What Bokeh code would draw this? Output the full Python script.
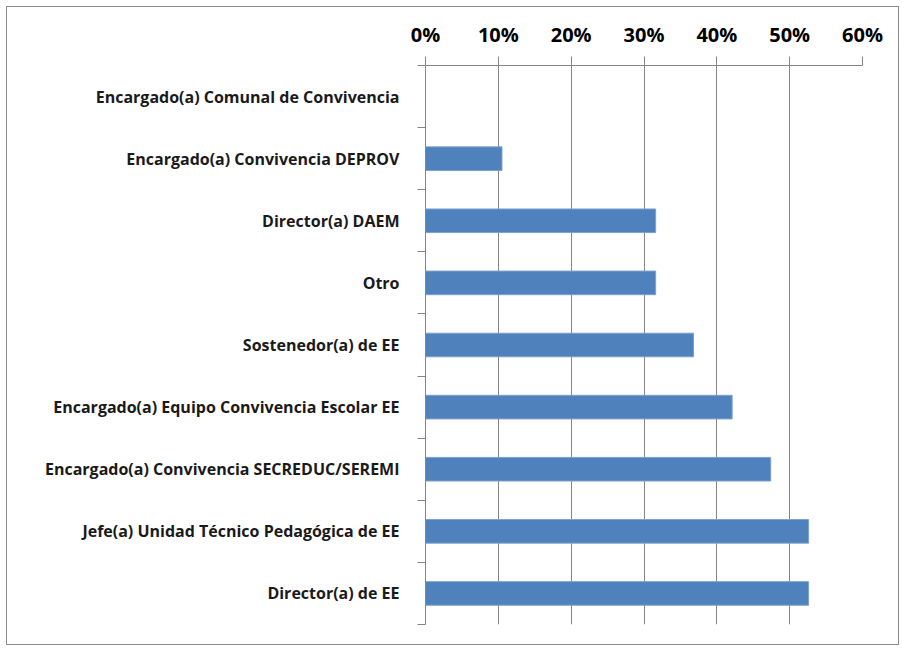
from bokeh.plotting import figure
from bokeh.models import ColumnDataSource, FixedTicker, NumeralTickFormatter, Range1d
from bokeh.embed import file_html
from bokeh.resources import INLINE

categories = [
    "Director(a) de EE",
    "Jefe(a) Unidad Técnico Pedagógica de EE",
    "Encargado(a) Convivencia SECREDUC/SEREMI",
    "Encargado(a) Equipo Convivencia Escolar EE",
    "Sostenedor(a) de EE",
    "Otro",
    "Director(a) DAEM",
    "Encargado(a) Convivencia DEPROV",
    "Encargado(a) Comunal de Convivencia",
]
values = [0.526, 0.526, 0.474, 0.421, 0.368, 0.316, 0.316, 0.105, 0.0]
x_ticks = [0.0, 0.1, 0.2, 0.3, 0.4, 0.5, 0.6]

positions = [i + 0.5 for i in range(len(categories))]
src = ColumnDataSource(dict(y=positions, v=values, cat=categories))

W, H = 893, 639
p = figure(width=W, height=H, output_backend="svg", toolbar_location=None,
           x_axis_location="above",
           x_range=Range1d(0, 0.6), y_range=Range1d(0, len(categories)),
           min_border_left=418, min_border_top=58, min_border_right=W - 855,
           min_border_bottom=H - 617,
           styles={"border": "1px solid #8c8c8c", "margin-left": "6px", "margin-top": "6px"})

p.hbar(y="y", right="v", left=0, height=0.38, source=src,
       fill_color="#4F81BD", line_color="#7DA0CF", line_width=1)

grey = "#868686"
p.outline_line_color = None
p.ygrid.grid_line_color = None
p.xgrid.grid_line_color = grey
p.xgrid.grid_line_width = 1
p.xgrid.ticker = FixedTicker(ticks=x_ticks)

xa = p.xaxis[0]
xa.ticker = FixedTicker(ticks=x_ticks)
xa.formatter = NumeralTickFormatter(format="0%")
xa.axis_line_color = grey
xa.major_tick_line_color = grey
xa.major_tick_out = 9
xa.major_tick_in = 0
xa.minor_tick_line_color = None
xa.major_label_text_font = "Open Sans"
xa.major_label_text_font_style = "bold"
xa.major_label_text_font_size = "20px"
xa.major_label_text_color = "#000000"
xa.major_label_standoff = 9

ya = p.yaxis[0]
ya.ticker = FixedTicker(ticks=positions, minor_ticks=list(range(len(categories) + 1)))
ya.major_label_overrides = {pos: cat for pos, cat in zip(positions, categories)}
ya.axis_line_color = grey
ya.major_tick_line_color = None
ya.major_tick_out = 8
ya.major_tick_in = 0
ya.minor_tick_line_color = grey
ya.minor_tick_out = 8
ya.minor_tick_in = 0
ya.major_label_text_font = "Open Sans"
ya.major_label_text_font_style = "bold"
ya.major_label_text_font_size = "16px"
ya.major_label_text_color = "#1a1a1a"
ya.major_label_standoff = 18

open("out.html", "w").write(file_html(p, INLINE))
